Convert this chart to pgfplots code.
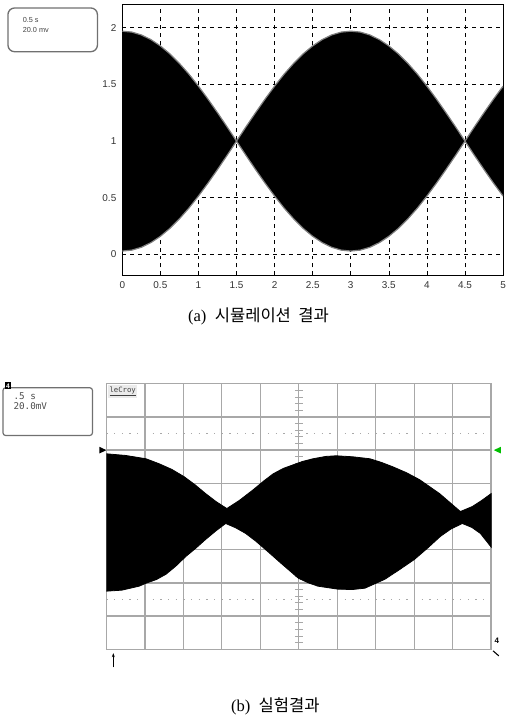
\documentclass[border=0pt]{standalone}
\usepackage{fontspec}
\setmainfont{Liberation Serif}
\setsansfont{Liberation Sans}
\setmonofont{DejaVu Sans Mono}
\newfontfamily\kr{Noto Sans CJK KR}
\usepackage{pgfplots}
\usepackage{pgfplotstable}
\pgfplotsset{compat=1.18}
\usepgfplotslibrary{fillbetween}
\usetikzlibrary{arrows.meta}
\definecolor{ScopeGrid}{HTML}{A8A8A8}
\definecolor{BoxGray}{HTML}{707070}

% (a) simulated envelope
\pgfplotstableread{
t up lo
0 1.970 0.030
0.125 1.962 0.038
0.25 1.937 0.063
0.375 1.896 0.104
0.5 1.840 0.160
0.625 1.770 0.230
0.75 1.686 0.314
0.875 1.591 0.409
1 1.485 0.515
1.125 1.371 0.629
1.25 1.251 0.749
1.375 1.127 0.873
1.5 1.000 1.000
1.625 1.127 0.873
1.75 1.251 0.749
1.875 1.371 0.629
2 1.485 0.515
2.125 1.591 0.409
2.25 1.686 0.314
2.375 1.770 0.230
2.5 1.840 0.160
2.625 1.896 0.104
2.75 1.937 0.063
2.875 1.962 0.038
3 1.970 0.030
3.125 1.962 0.038
3.25 1.937 0.063
3.375 1.896 0.104
3.5 1.840 0.160
3.625 1.770 0.230
3.75 1.686 0.314
3.875 1.591 0.409
4 1.485 0.515
4.125 1.371 0.629
4.25 1.251 0.749
4.375 1.127 0.873
4.5 1.000 1.000
4.625 1.127 0.873
4.75 1.251 0.749
4.875 1.371 0.629
5 1.485 0.515
}\simdata

\begin{document}
\begin{tikzpicture}
\path (0pt,0pt) rectangle (382.5pt,-539.25pt);

% ---------- (a) simulation ----------
\begin{axis}[
    scale only axis,
    width=287.25pt, height=204.75pt,
    at={(92.25pt,-3pt)}, anchor=north west,
    xmin=0, xmax=5, ymin=-0.185, ymax=2.21,
    xtick={0,0.5,...,5}, ytick={0,0.5,...,2},
    grid=major,
    major grid style={black, dashed, line width=0.5pt},
    axis line style={black, line width=0.7pt},
    major tick length=0pt,
    tick label style={font=\sffamily\fontsize{7.5}{8}\selectfont, color=black!80},
    /pgf/number format/assume math mode=true,
    xticklabel style={yshift=-1pt},
    yticklabel style={xshift=-1pt},
]
\addplot[name path=simup, draw=black!50, line width=0.9pt] table[x=t, y=up] {\simdata};
\addplot[name path=simlo, draw=black!50, line width=0.9pt] table[x=t, y=lo] {\simdata};
\addplot[black] fill between[of=simup and simlo];
\end{axis}

\draw[BoxGray, line width=1pt, rounded corners=5pt] (6pt,-6pt) rectangle (73.5pt,-39pt);
\node[anchor=west, font=\sffamily\fontsize{5.5}{5.5}\selectfont, text=black!75, inner sep=0pt] at (17pt,-15pt) {0.5 s};
\node[anchor=west, font=\sffamily\fontsize{5.5}{5.5}\selectfont, text=black!75, inner sep=0pt] at (17pt,-22.5pt) {20.0 mv};

\node[font=\fontsize{12.5}{12.5}\selectfont] at (195pt,-238.5pt) {(a)\ \ {\kr 시뮬레이션\ \ 결과}};

% ---------- (b) experiment ----------
\begin{axis}[
    scale only axis,
    width=290.25pt, height=200.25pt,
    at={(80.25pt,-289.5pt)}, anchor=north west,
    xmin=0, xmax=10, ymin=-4, ymax=4,
    xtick={0,...,10}, ytick={-4,...,4},
    xticklabels={}, yticklabels={},
    major tick length=0pt,
    grid=major,
    major grid style={ScopeGrid, line width=1pt},
    axis line style={ScopeGrid, line width=1pt},
    clip=false,
]
% centre graticule ticks and reference dot rows, drawn before the trace
\pgfplotsinvokeforeach{-3.8,-3.6,...,3.85}{
  \draw[ScopeGrid, line width=0.6pt] (axis cs:4.9,#1) -- (axis cs:5.1,#1);
}
\draw[ScopeGrid, line width=1pt, dash pattern=on 1pt off 4.8pt, dash phase=-5.8pt] (axis cs:0,2.5) -- (axis cs:10,2.5);
\draw[ScopeGrid, line width=1pt, dash pattern=on 1pt off 4.8pt, dash phase=-5.8pt] (axis cs:0,-2.5) -- (axis cs:10,-2.5);
% measured envelope: upper edge left to right, then lower edge right to left
\addplot[fill=black, draw=black, line width=0.6pt] coordinates {
  (0,1.89) (0.5,1.84) (1.03,1.74) (1.37,1.59) (1.7,1.42) (2.02,1.20)
  (2.3,0.96) (2.58,0.69) (2.85,0.45) (3.13,0.24) (3.45,0.48) (3.82,0.81)
  (4.1,1.08) (4.34,1.29) (4.6,1.45) (4.86,1.56) (5.1,1.66) (5.37,1.74)
  (5.7,1.81) (5.97,1.83) (6.4,1.80) (6.85,1.74) (7.15,1.63) (7.44,1.50)
  (7.8,1.32) (8.14,1.11) (8.4,0.90) (8.66,0.69) (8.95,0.40) (9.20,0.15)
  (9.51,0.30) (9.75,0.48) (10,0.69)
  (10,-0.92) (9.72,-0.51) (9.50,-0.33) (9.25,-0.21) (8.95,-0.38) (8.68,-0.60)
  (8.35,-0.95) (8.01,-1.29) (7.62,-1.60) (7.24,-1.89) (6.72,-2.16) (6.40,-2.20)
  (6.02,-2.19) (5.50,-2.10) (5.25,-2.00) (4.99,-1.86) (4.55,-1.42) (4.13,-0.99)
  (3.88,-0.74) (3.62,-0.51) (3.36,-0.34) (3.10,-0.21) (2.85,-0.43) (2.58,-0.69)
  (2.33,-0.95) (2.07,-1.20) (1.8,-1.50) (1.55,-1.74) (1.3,-1.90) (1.03,-2.01)
  (0.85,-2.10) (0.4,-2.22) (0,-2.25)
};
% level markers
\fill[black] (axis cs:-0.18,2.1) -- (axis cs:0,2.0) -- (axis cs:-0.18,1.9) -- cycle;
\fill[green!75!black] (axis cs:10.25,2.1) -- (axis cs:10.07,2.0) -- (axis cs:10.25,1.9) -- cycle;
% trigger arrow and channel mark
\draw[black, line width=1pt, -{Stealth[length=3pt]}] (axis cs:0.18,-4.55) -- (axis cs:0.18,-4.12);
\node[font=\bfseries\sffamily\fontsize{6}{6}\selectfont, inner sep=0pt] at (axis cs:10.15,-3.75) {4};
\draw[black, line width=0.8pt] (axis cs:10.05,-4.05) -- (axis cs:10.2,-4.2);
\node[anchor=north west, font=\ttfamily\fontsize{5.5}{6}\selectfont, text=black!75, inner sep=1pt, fill=black!8] at (axis cs:0.04,3.96) {\underline{leCroy}};
\end{axis}

\draw[BoxGray, line width=0.9pt, rounded corners=2pt] (2.25pt,-292.5pt) rectangle (69.75pt,-328.5pt);
\node[fill=black, text=white, font=\bfseries\sffamily\fontsize{5}{5}\selectfont, inner sep=0.8pt] at (6pt,-291pt) {4};
\node[anchor=west, font=\ttfamily\fontsize{7}{7}\selectfont, text=black!70, inner sep=0pt] at (10pt,-299pt) {.5 s};
\node[anchor=west, font=\ttfamily\fontsize{7}{7}\selectfont, text=black!70, inner sep=0pt] at (10pt,-306.5pt) {20.0mV};

\node[font=\fontsize{12.5}{12.5}\selectfont] at (207.75pt,-532.5pt) {(b)\ \ {\kr 실험결과}};
\end{tikzpicture}
\end{document}
